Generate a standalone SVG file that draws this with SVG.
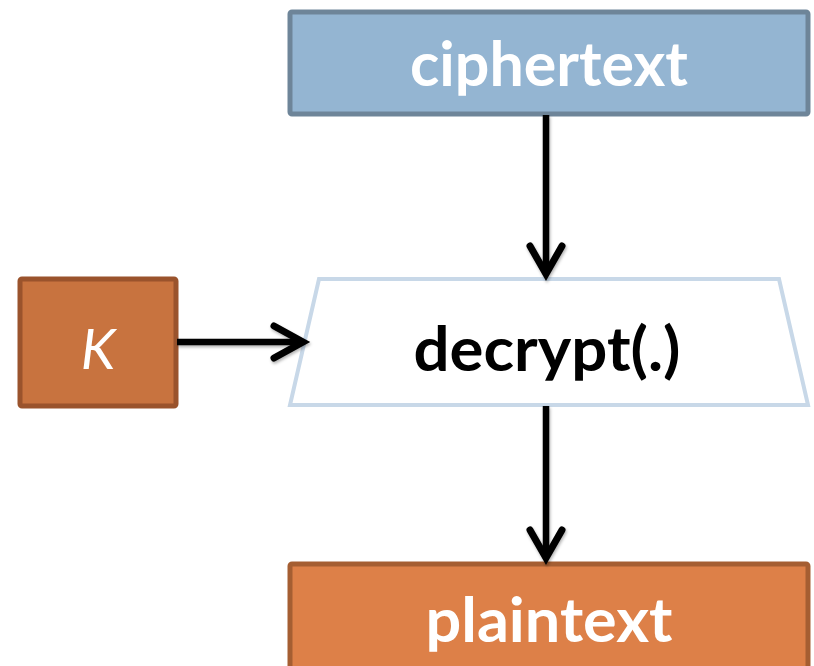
<svg xmlns="http://www.w3.org/2000/svg" width="814" height="666" viewBox="0 0 814 666">
<defs>
<style>
.lbl{font-family:"Lato","DejaVu Sans",sans-serif;font-weight:bold;text-anchor:middle}
.conn{stroke:#000;stroke-width:6.5;fill:none;stroke-linecap:butt}
.head{stroke:#000;stroke-width:7;fill:none;stroke-linecap:round;stroke-linejoin:miter}
</style>
<filter id="sh" x="-20%" y="-20%" width="140%" height="140%">
<feDropShadow dx="1" dy="2" stdDeviation="1.5" flood-color="#000" flood-opacity="0.3"/>
</filter>
</defs>
<g id="ciphertext">
<rect x="290" y="12" width="518" height="102" rx="2" fill="#94B5D2" stroke="#6E8599" stroke-width="5"/>
<text class="lbl" x="549" y="86" font-size="62" fill="#fff" textLength="278" lengthAdjust="spacingAndGlyphs">ciphertext</text>
</g>
<g id="K">
<rect x="20" y="279" width="156" height="127" rx="2" fill="#C8733F" stroke="#9A532C" stroke-width="5"/>
<text x="98" y="369" font-family="Lato,'DejaVu Sans',sans-serif" font-style="italic" font-size="56" fill="#fff" text-anchor="middle">K</text>
</g>
<g id="decrypt">
<polygon points="319,279 779,279 808,405 290,405" fill="#fff" stroke="#C8D8E8" stroke-width="4"/>
<text class="lbl" x="547" y="371" font-size="62" fill="#000" textLength="267" lengthAdjust="spacingAndGlyphs">decrypt(.)</text>
</g>
<g id="plaintext">
<rect x="290" y="564" width="518" height="110" rx="2" fill="#DD8048" stroke="#A55E32" stroke-width="5"/>
<text class="lbl" x="549" y="642" font-size="62" fill="#fff" textLength="247" lengthAdjust="spacingAndGlyphs">plaintext</text>
</g>
<g id="connectors" filter="url(#sh)">
<line class="conn" x1="546" y1="115" x2="546" y2="272"/>
<polyline class="head" points="530,246 546,274 562,246"/>
<line class="conn" x1="177" y1="342" x2="301" y2="342"/>
<polyline class="head" points="274,326 303,342 274,358"/>
<line class="conn" x1="546" y1="406" x2="546" y2="558"/>
<polyline class="head" points="530,530 546,558 562,530"/>
</g>
</svg>
